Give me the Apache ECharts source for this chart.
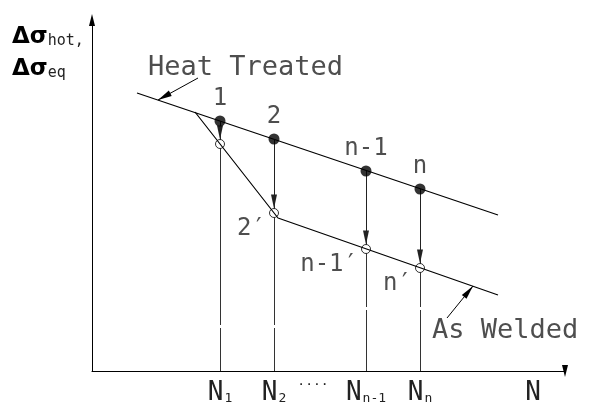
<!DOCTYPE html>
<html>
<head>
<meta charset="utf-8">
<script src="https://cdn.jsdelivr.net/npm/echarts@6/dist/echarts.min.js"></script>
<style>
  html, body { margin: 0; background: #fff; }
  #chart { width: 605px; height: 403px; }
</style>
</head>
<body>
<div id="chart"></div>
<script>
// units: x = px right of the vertical axis, y = px above the horizontal axis
const nValues = [128, 182, 274, 328];
const heatTreatedLine = [[45, 278], [406, 156]];
const asWeldedLine = [[103, 259], [186, 153], [406, 76]];
const filledY = [250, 232, 200, 182];
const openY = [227, 158, 122, 103];
const filledLabels = ['1', '2', 'n-1', 'n'];
const openLabels = ['', '2′', 'n-1′', 'n′'];
const xTickValues = [128, 182, 221, 274, 328, 441];
const xTickLabels = ['{n|N}{s|1}', '{n|N}{s|2}', '{d|····}', '{n|N}{s|n-1}', '{n|N}{s|n}', '{n|N}'];
const heatLeader = [[106, 293], [66, 271]];
const weldLeader = [[355, 53], [381, 85]];
const notes = [
  { name: 'Heat Treated', value: [56, 303] },
  { name: 'As Welded', value: [340, 40] }
];

const cad = 'DejaVu Sans Mono';
// narrow triangle, tip at the centre of a square box
const tip = 'path://M-9,0L-9,0M19,28L19,28M5,14L8,28L2,28Z';
const gapAt = [43, 43, 61, 61]; // centre-line gaps above the axis

const chart = echarts.init(document.getElementById('chart'));

chart.setOption({
  animation: false,
  backgroundColor: '#fff',
  grid: { left: 92, right: 40, top: 20, bottom: 32, outerBoundsMode: 'none' },
  xAxis: {
    type: 'value',
    min: 0,
    max: 473,
    splitLine: { show: false },
    axisTick: { show: false },
    axisLine: {
      lineStyle: { color: '#000', width: 1 },
      symbol: ['none', 'path://M0,0L20,5L0,10Z'],
      symbolSize: [15, 6]
    },
    axisLabel: {
      customValues: xTickValues,
      margin: 7,
      formatter: v => xTickLabels[xTickValues.indexOf(v)] || '',
      rich: {
        n: { fontFamily: cad, fontSize: 26, lineHeight: 30, color: '#222' },
        s: { fontFamily: cad, fontSize: 13, color: '#222', verticalAlign: 'bottom', padding: [0, 0, 3, 1] },
        d: { fontFamily: cad, fontSize: 13, color: '#222', verticalAlign: 'bottom', padding: [0, 0, 6, 0] }
      }
    }
  },
  yAxis: {
    type: 'value',
    min: 0,
    max: 351,
    splitLine: { show: false },
    axisTick: { show: false },
    axisLabel: { show: false },
    axisLine: {
      lineStyle: { color: '#000', width: 1 },
      symbol: ['none', 'path://M5,0L10,20L0,20Z'],
      symbolSize: [6, 15]
    }
  },
  graphic: [{
    type: 'text',
    left: 12,
    top: 26,
    style: {
      text: '{b|Δσ}{s|hot,}\n{b|Δσ}{s|eq}',
      rich: {
        b: { fontFamily: 'DejaVu Sans', fontWeight: 'bold', fontSize: 23, lineHeight: 32, fill: '#000' },
        s: { fontFamily: cad, fontSize: 15, fill: '#222', verticalAlign: 'bottom', padding: [0, 0, 5, 0] }
      }
    }
  }],
  series: [
    {
      type: 'line',
      data: heatTreatedLine,
      symbol: 'none',
      lineStyle: { color: '#000', width: 1.2 },
      z: 3
    },
    {
      type: 'line',
      data: asWeldedLine,
      symbol: 'none',
      lineStyle: { color: '#000', width: 1.2 },
      z: 3
    },
    {
      // drops from heat treated to as welded
      type: 'lines',
      coordinateSystem: 'cartesian2d',
      data: nValues.map((x, i) => ({ coords: [[x, filledY[i]], [x, openY[i] + 4.5]] })),
      symbol: ['none', tip],
      symbolSize: 28,
      lineStyle: { color: '#222', width: 1, opacity: 1 },
      z: 4
    },
    {
      // centre lines down to the N axis
      type: 'lines',
      coordinateSystem: 'cartesian2d',
      data: nValues.map((x, i) => ({
        coords: [[x, 0], [x, openY[i] - 4.5]],
        lineStyle: { type: [gapAt[i], 3, 400] }
      })),
      symbol: 'none',
      lineStyle: { color: '#333', width: 1, opacity: 1 },
      z: 2
    },
    {
      // leader arrows
      type: 'lines',
      coordinateSystem: 'cartesian2d',
      data: [{ coords: heatLeader }, { coords: weldLeader }],
      symbol: ['none', tip],
      symbolSize: 28,
      lineStyle: { color: '#000', width: 1, opacity: 1 },
      z: 4
    },
    {
      type: 'scatter',
      data: nValues.map((x, i) => [x, filledY[i]]),
      symbol: 'circle',
      symbolSize: 11,
      itemStyle: { color: '#000' },
      label: {
        show: true,
        position: 'top',
        distance: 5,
        formatter: p => filledLabels[p.dataIndex],
        fontFamily: cad,
        fontSize: 24,
        color: '#222'
      },
      z: 5
    },
    {
      type: 'scatter',
      data: nValues.map((x, i) => [x, openY[i]]),
      symbol: 'circle',
      symbolSize: 9,
      itemStyle: { color: 'rgba(0,0,0,0)', borderColor: '#000', borderWidth: 1 },
      label: {
        show: true,
        position: 'left',
        distance: 3,
        offset: [0, 16],
        formatter: p => openLabels[p.dataIndex],
        fontFamily: cad,
        fontSize: 24,
        color: '#222'
      },
      z: 5
    },
    {
      type: 'scatter',
      data: notes,
      symbolSize: 0,
      label: {
        show: true,
        position: 'right',
        distance: 0,
        formatter: '{b}',
        fontFamily: cad,
        fontSize: 27,
        color: '#222'
      },
      z: 5
    }
  ]
});
</script>
</body>
</html>
